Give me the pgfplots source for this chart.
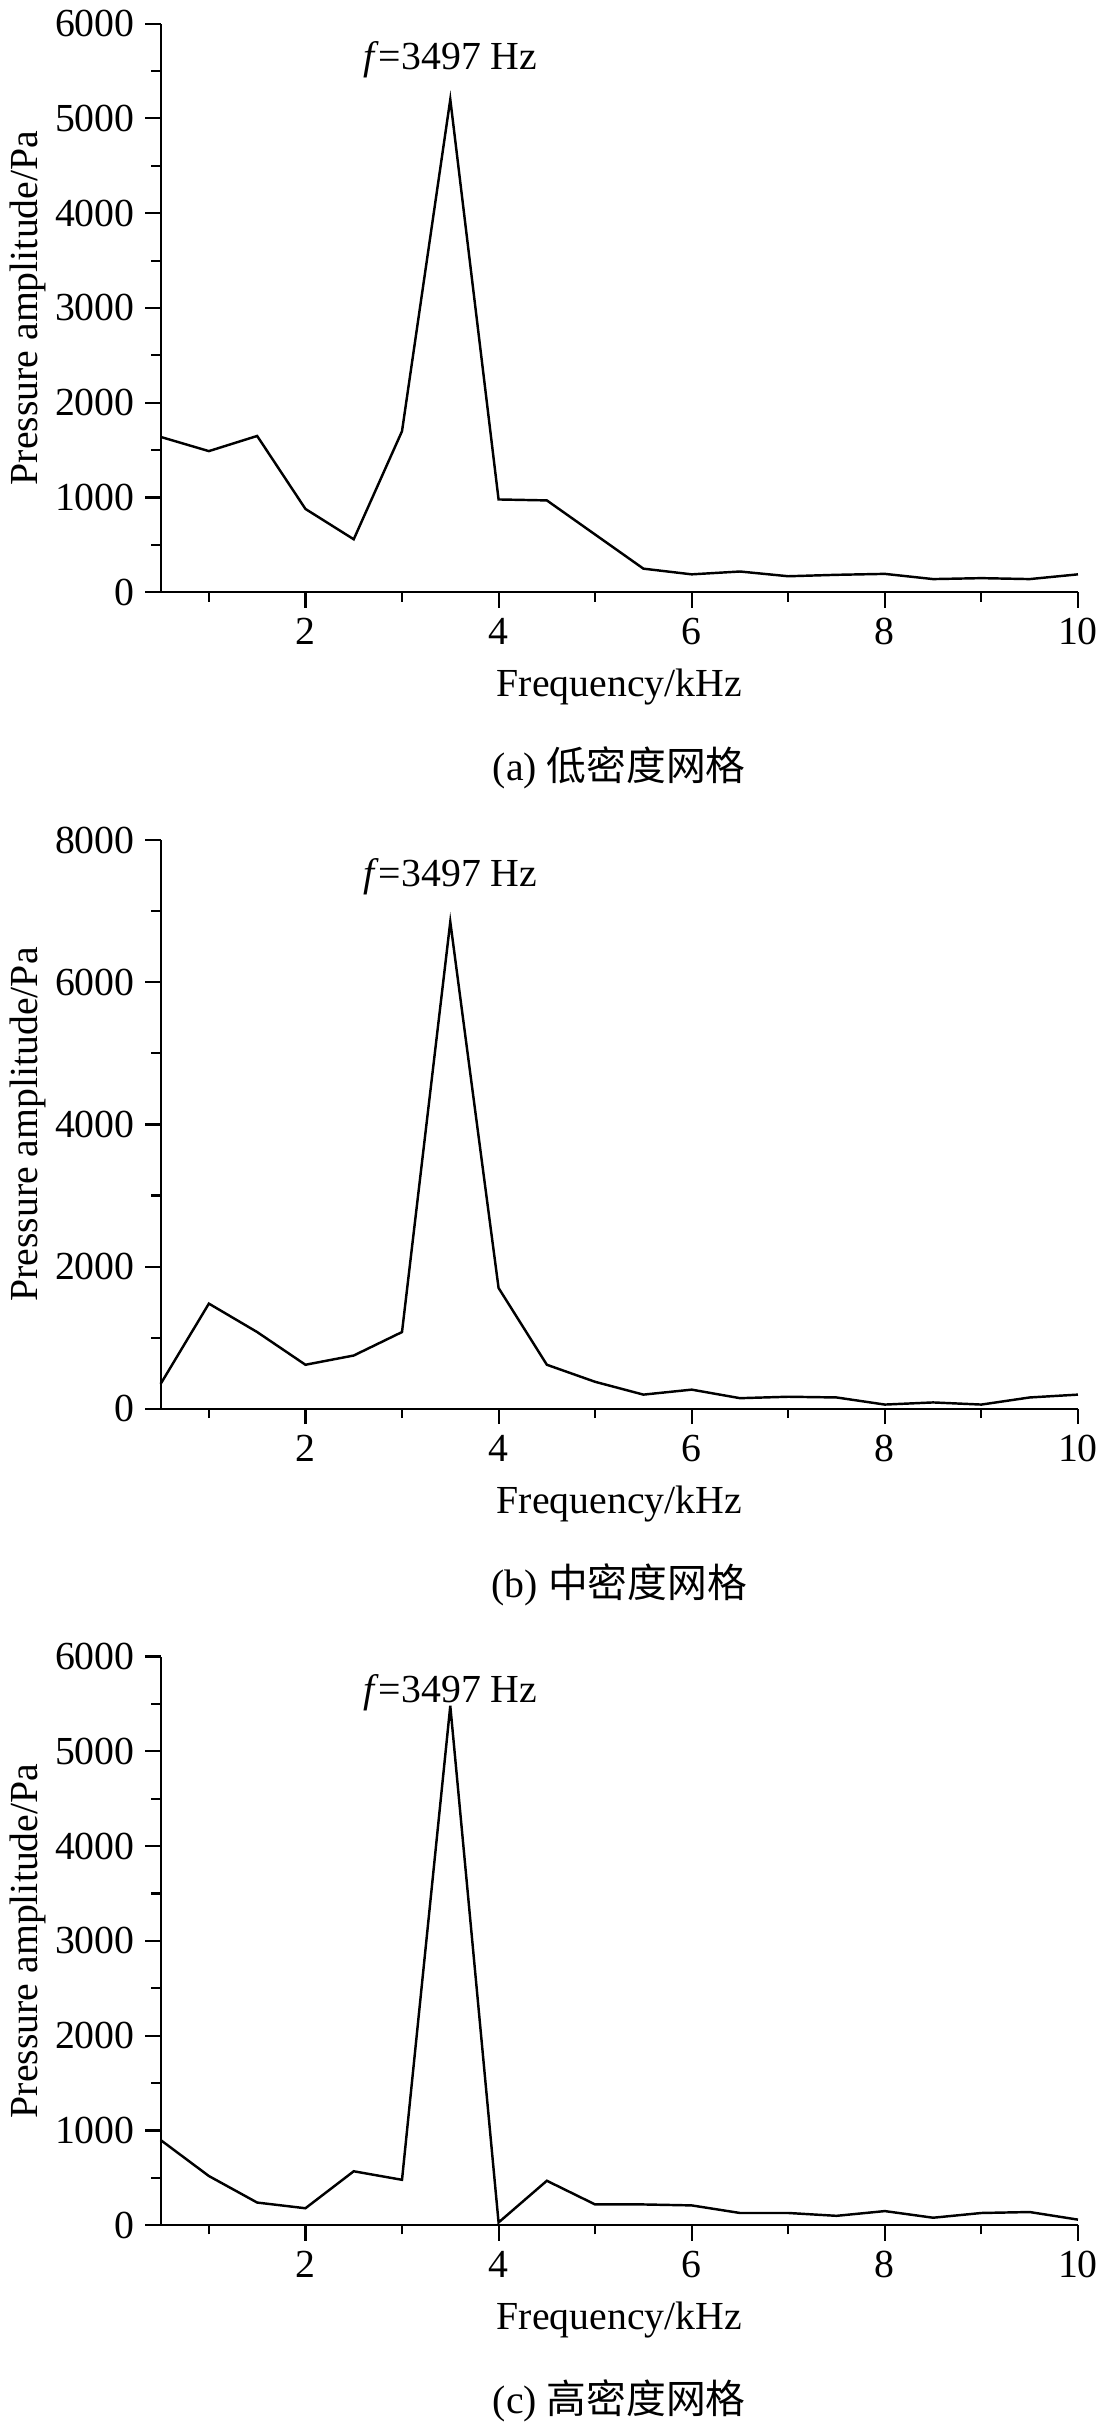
\documentclass[border=0pt]{standalone}
\usepackage{pgfplots}
\pgfplotsset{compat=1.18}
\usepackage{fontspec}
\setmainfont{Liberation Serif}
\newfontfamily\cjk{Noto Sans CJK SC}
\pgfplotsset{
 panel/.style={width=300pt,height=186pt,scale only axis,
  axis x line*=bottom, axis y line*=left,
  axis line style={line width=0.7pt},
  xmin=0.5,xmax=10,ymin=0,
  xtick={2,4,6,8,10}, minor xtick={1,3,5,7,9},
  tick align=outside, tick style={black,line width=0.7pt},
  major tick length=5pt, minor tick length=3pt,
  tick label style={font=\fontsize{13}{15}\selectfont},
  label style={font=\fontsize{13}{15}\selectfont},
  /pgf/number format/assume math mode=true,
  /pgf/number format/1000 sep={},
  xlabel={Frequency/kHz}, ylabel={Pressure amplitude/Pa},
  xlabel style={yshift=-1pt},ylabel style={yshift=-4pt},
  clip=false}
}
\begin{document}
\begin{tikzpicture}
\begin{axis}[panel, at={(0,534pt)}, ymax=6000, ytick={0,1000,...,6000}, minor ytick={500,1500,...,5500}]
\addplot[black,line width=0.8pt] coordinates {(0.5,1640)(1,1490)(1.5,1650)(2,880)(2.5,560)(3,1700)(3.5,5200)(4,980)(4.5,970)(5,610)(5.5,250)(6,190)(6.5,220)(7,170)(7.5,185)(8,195)(8.5,140)(9,150)(9.5,140)(10,190)};
\node[font=\fontsize{13}{15}\selectfont] at (axis cs:3.5,5620) {\textit{f}=3497 Hz};
\node[font=\fontsize{13}{15}\selectfont] at (axis cs:5.25,-1850) {(a) {\cjk 低密度网格}};
\end{axis}
\begin{axis}[panel, at={(0,267pt)}, ymax=8000, ytick={0,2000,...,8000}, minor ytick={1000,3000,5000,7000}]
\addplot[black,line width=0.8pt] coordinates {(0.5,350)(1,1480)(1.5,1080)(2,620)(2.5,750)(3,1080)(3.5,6850)(4,1700)(4.5,620)(5,380)(5.5,200)(6,270)(6.5,150)(7,170)(7.5,160)(8,60)(8.5,90)(9,60)(9.5,160)(10,200)};
\node[font=\fontsize{13}{15}\selectfont] at (axis cs:3.5,7490) {\textit{f}=3497 Hz};
\node[font=\fontsize{13}{15}\selectfont] at (axis cs:5.25,-2470) {(b) {\cjk 中密度网格}};
\end{axis}
\begin{axis}[panel, at={(0,0pt)}, ymax=6000, ytick={0,1000,...,6000}, minor ytick={500,1500,...,5500}]
\addplot[black,line width=0.8pt] coordinates {(0.5,900)(1,520)(1.5,240)(2,180)(2.5,570)(3,480)(3.5,5480)(4,30)(4.5,470)(5,220)(5.5,220)(6,210)(6.5,130)(7,130)(7.5,100)(8,150)(8.5,80)(9,130)(9.5,140)(10,60)};
\node[font=\fontsize{13}{15}\selectfont] at (axis cs:3.5,5620) {\textit{f}=3497 Hz};
\node[font=\fontsize{13}{15}\selectfont] at (axis cs:5.25,-1850) {(c) {\cjk 高密度网格}};
\end{axis}
\end{tikzpicture}
\end{document}
